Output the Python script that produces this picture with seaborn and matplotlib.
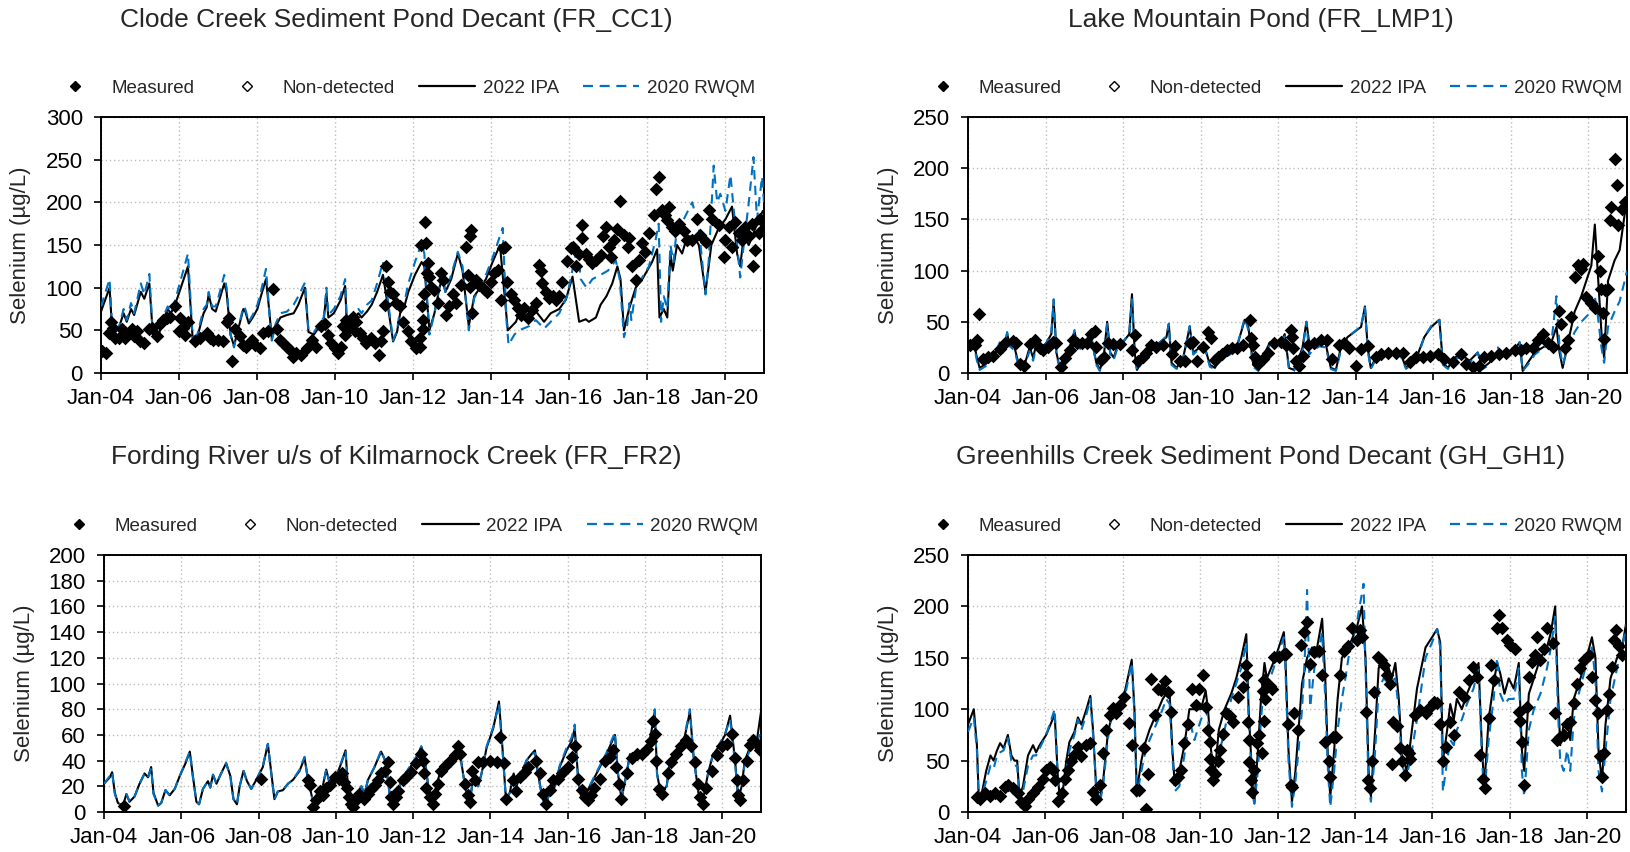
import numpy as np
import matplotlib
matplotlib.use("Agg")
import matplotlib.pyplot as plt
from matplotlib.lines import Line2D
import seaborn as sns

# ---------------- DATA (decimal year, Selenium ug/L) ----------------
cc1_ipa = [(2004.00,72),(2004.22,100),(2004.28,55),(2004.45,52),(2004.58,70),(2004.66,60),(2004.77,75),(2004.85,68),
 (2005.02,95),(2005.11,87),(2005.24,105),(2005.33,45),(2005.45,40),(2005.59,62),(2005.71,75),(2005.79,70),(2005.90,80),
 (2006.23,125),(2006.35,40),(2006.47,42),(2006.63,70),(2006.71,77),(2006.76,92),(2006.85,75),(2006.94,72),(2007.03,85),
 (2007.16,105),(2007.22,95),(2007.32,45),(2007.41,32),(2007.65,75),(2007.70,72),(2007.79,58),(2007.89,65),(2008.01,75),
 (2008.10,90),(2008.23,110),(2008.31,75),(2008.38,40),(2008.48,55),(2008.60,65),(2008.77,68),(2008.94,70),(2009.06,80),
 (2009.23,100),(2009.32,48),(2009.46,45),(2009.61,55),(2009.71,62),(2009.78,93),(2009.83,65),(2009.97,70),(2010.14,85),
 (2010.26,102),(2010.31,50),(2010.39,60),(2010.60,70),(2010.68,65),(2010.82,72),(2010.94,80),(2011.08,95),(2011.23,115),
 (2011.40,65),(2011.49,37),(2011.59,48),(2011.67,70),(2011.79,80),(2011.88,95),(2012.05,115),(2012.22,130),(2012.29,125),
 (2012.42,50),(2012.55,70),(2012.68,100),(2012.75,112),(2012.83,95),(2012.98,110),(2013.15,140),(2013.27,120),(2013.43,55),
 (2013.57,90),(2013.72,100),(2013.87,110),(2014.04,130),(2014.23,150),(2014.34,95),(2014.43,50),(2014.64,60),(2014.72,70),
 (2014.89,65),(2015.06,75),(2015.19,70),(2015.36,60),(2015.53,70),(2015.75,75),(2015.92,86),(2016.09,113),(2016.26,60),
 (2016.43,63),(2016.51,60),(2016.69,65),(2016.81,80),(2016.96,90),(2017.11,105),(2017.24,125),(2017.32,110),(2017.41,50),
 (2017.54,75),(2017.71,100),(2017.88,110),(2018.13,130),(2018.26,145),(2018.32,65),(2018.43,75),(2018.52,65),(2018.60,140),
 (2018.66,120),(2018.77,150),(2018.90,140),(2019.03,160),(2019.20,160),(2019.33,150),(2019.50,95),(2019.65,150),(2019.84,170),
 (2020.01,180),(2020.18,195),(2020.31,140),(2020.39,125),(2020.48,160),(2020.61,150),(2020.78,170),(2020.97,190)]

cc1_rwqm = [(2004.00,78),(2004.22,110),(2004.28,58),(2004.45,52),(2004.58,75),(2004.66,62),(2004.77,82),(2004.85,70),
 (2005.02,105),(2005.11,92),(2005.24,116),(2005.33,45),(2005.45,42),(2005.59,65),(2005.71,78),(2005.79,72),(2005.90,85),
 (2006.23,140),(2006.35,42),(2006.47,45),(2006.63,75),(2006.71,80),(2006.76,95),(2006.85,78),(2006.94,78),(2007.03,92),
 (2007.16,115),(2007.22,100),(2007.32,45),(2007.41,30),(2007.65,78),(2007.70,75),(2007.79,60),(2007.89,68),(2008.01,80),
 (2008.10,95),(2008.23,122),(2008.31,75),(2008.38,38),(2008.48,58),(2008.60,70),(2008.77,72),(2008.94,80),(2009.06,90),
 (2009.23,106),(2009.32,50),(2009.46,48),(2009.61,58),(2009.71,65),(2009.78,100),(2009.83,68),(2009.97,75),(2010.14,90),
 (2010.26,110),(2010.31,52),(2010.39,62),(2010.60,75),(2010.68,70),(2010.82,80),(2010.94,85),(2011.08,105),(2011.23,130),
 (2011.40,70),(2011.49,38),(2011.59,50),(2011.67,75),(2011.79,85),(2011.88,105),(2012.05,130),(2012.22,152),(2012.29,140),
 (2012.42,45),(2012.55,70),(2012.68,105),(2012.75,115),(2012.83,95),(2012.98,115),(2013.15,142),(2013.27,125),(2013.43,50),
 (2013.57,88),(2013.72,100),(2013.87,115),(2014.04,135),(2014.30,170),(2014.40,60),(2014.45,33),(2014.60,45),(2014.72,50),
 (2014.98,55),(2015.15,62),(2015.36,52),(2015.53,60),(2015.75,70),(2015.95,90),(2016.13,130),(2016.22,150),(2016.30,110),
 (2016.45,100),(2016.60,110),(2016.81,115),(2017.00,120),(2017.20,132),(2017.30,110),(2017.41,42),(2017.49,55),(2017.55,82),
 (2017.60,62),(2017.72,100),(2017.88,112),(2018.05,125),(2018.22,156),(2018.30,175),(2018.36,60),(2018.43,90),(2018.52,75),
 (2018.60,150),(2018.68,130),(2018.77,172),(2018.94,180),(2019.16,200),(2019.33,170),(2019.50,92),(2019.58,130),(2019.71,243),
 (2019.80,200),(2019.88,210),(2020.01,190),(2020.14,232),(2020.31,150),(2020.39,112),(2020.48,150),(2020.61,200),(2020.73,253),
 (2020.82,180),(2020.95,230),(2021.00,200)]

cc1_meas = [(2004.03,26),(2004.14,24),(2004.20,47),(2004.26,60),(2004.32,53),(2004.37,41),(2004.45,41),(2004.54,51),
 (2004.62,41),(2004.71,47),(2004.79,51),(2004.84,43),(2004.92,49),(2005.01,37),(2005.09,35),(2005.22,51),(2005.30,53),
 (2005.43,43),(2005.52,58),(2005.60,62),(2005.69,64),(2005.77,66),(2005.90,78),(2005.99,49),(2006.03,64),(2006.11,53),
 (2006.16,45),(2006.24,60),(2006.41,37),(2006.54,41),(2006.71,47),(2006.80,41),(2006.88,39),(2007.01,39),(2007.14,37),
 (2007.22,60),(2007.27,64),(2007.35,14),(2007.44,51),(2007.56,43),(2007.65,33),(2007.73,31),(2007.86,39),(2007.95,33),
 (2008.07,29),(2008.16,47),(2008.29,49),(2008.42,99),(2008.50,51),(2008.59,39),(2008.67,35),(2008.76,31),(2008.84,27),
 (2008.93,19),(2009.01,23),(2009.14,21),(2009.27,29),(2009.40,39),(2009.52,31),(2009.65,55),(2009.74,58),(2009.82,45),
 (2009.91,35),(2009.99,29),(2010.08,23),(2010.16,31),(2010.21,55),(2010.25,45),(2010.29,62),(2010.33,51),(2010.38,58),
 (2010.46,66),(2010.50,49),(2010.55,60),(2010.63,47),(2010.72,41),(2010.80,35),(2010.93,41),(2011.02,35),(2011.14,21),
 (2011.19,37),(2011.23,49),(2011.27,80),(2011.31,125),(2011.36,107),(2011.40,95),(2011.49,93),(2011.57,82),(2011.66,78),
 (2011.74,60),(2011.87,49),(2011.95,37),(2012.08,29),(2012.17,41),(2012.25,51),(2012.30,177),(2012.34,152),(2012.36,117),
 (2012.28,93),(2012.23,78),(2012.21,150),(2012.38,129),(2012.42,113),(2012.46,101),(2012.26,62),(2012.18,31),(2012.55,97),
 (2012.63,82),(2012.72,117),(2012.76,109),(2012.85,68),(2012.93,78),(2013.02,92),(2013.10,82),(2013.23,103),(2013.36,148),
 (2013.45,160),(2013.49,167),(2013.40,115),(2013.47,101),(2013.51,70),(2013.62,109),(2013.70,103),(2013.83,99),(2013.91,95),
 (2014.00,107),(2014.08,117),(2014.17,121),(2014.30,146),(2014.37,148),(2014.40,107),(2014.26,86),(2014.51,93),(2014.60,86),
 (2014.68,76),(2014.77,68),(2014.85,76),(2014.94,64),(2015.06,74),(2015.15,82),(2015.24,127),(2015.28,119),(2015.32,105),
 (2015.41,95),(2015.49,88),(2015.58,90),(2015.66,86),(2015.75,90),(2015.83,107),(2015.96,131),(2016.05,146),(2016.09,148),
 (2016.17,125),(2016.26,140),(2016.33,173),(2016.34,158),(2016.43,140),(2016.51,134),(2016.60,129),(2016.68,132),(2016.81,138),
 (2016.86,160),(2016.94,171),(2017.03,148),(2017.07,136),(2017.15,156),(2017.24,169),(2017.32,202),(2017.41,162),(2017.50,148),
 (2017.54,158),(2017.62,125),(2017.71,109),(2017.79,132),(2017.88,152),(2017.96,142),(2018.05,164),(2018.18,185),(2018.22,216),
 (2018.30,230),(2018.39,191),(2018.47,185),(2018.56,195),(2018.52,179),(2018.65,171),(2018.73,166),(2018.82,175),(2018.94,166),
 (2019.03,156),(2019.16,156),(2019.29,181),(2019.37,162),(2019.50,154),(2019.58,191),(2019.67,181),(2019.84,173),(2019.97,136),
 (2020.01,156),(2020.09,171),(2020.18,148),(2020.26,177),(2020.35,164),(2020.43,156),(2020.52,171),(2020.61,160),(2020.69,175),
 (2020.73,125),(2020.78,144),(2020.86,164),(2020.90,181),(2020.95,167)]

lmp1_ipa = [(2004.00,27),(2004.15,30),(2004.23,15),(2004.30,5),(2004.43,8),(2004.56,12),(2004.69,18),(2004.82,28),(2004.90,22),
 (2005.01,38),(2005.08,28),(2005.20,25),(2005.33,5),(2005.46,8),(2005.59,25),(2005.68,15),(2005.76,28),(2005.85,22),(2006.03,30),
 (2006.15,38),(2006.21,70),(2006.28,20),(2006.38,3),(2006.50,12),(2006.62,25),(2006.75,40),(2006.84,25),(2006.97,28),(2007.06,30),
 (2007.18,35),(2007.31,10),(2007.40,3),(2007.50,15),(2007.59,50),(2007.67,20),(2007.76,15),(2007.87,28),(2008.00,30),(2008.16,38),
 (2008.23,77),(2008.30,20),(2008.36,3),(2008.48,12),(2008.60,20),(2008.78,25),(2008.95,30),(2009.12,35),(2009.18,48),(2009.25,10),
 (2009.38,5),(2009.55,15),(2009.72,45),(2009.81,20),(2009.98,25),(2010.11,25),(2010.24,8),(2010.37,5),(2010.50,15),(2010.76,20),
 (2010.93,25),(2011.14,52),(2011.23,45),(2011.36,8),(2011.49,3),(2011.66,20),(2011.79,30),(2011.90,28),(2012.07,30),(2012.17,38),
 (2012.28,5),(2012.41,3),(2012.54,15),(2012.63,25),(2012.73,50),(2012.80,30),(2012.89,28),(2013.06,30),(2013.23,28),(2013.36,5),
 (2013.49,3),(2013.62,25),(2013.79,35),(2013.96,40),(2014.14,45),(2014.24,65),(2014.31,25),(2014.39,5),(2014.52,15),(2014.70,20),
 (2014.91,20),(2015.17,18),(2015.30,5),(2015.43,10),(2015.60,18),(2015.77,35),(2015.95,45),(2016.16,52),(2016.25,10),(2016.38,5),
 (2016.55,15),(2016.72,18),(2016.94,12),(2017.15,20),(2017.28,5),(2017.45,10),(2017.67,22),(2017.75,20),(2017.93,20),(2018.14,25),
 (2018.23,30),(2018.31,2),(2018.44,10),(2018.62,20),(2018.83,25),(2019.05,30),(2019.18,45),(2019.26,20),(2019.34,5),(2019.48,30),
 (2019.65,60),(2019.82,75),(2020.08,105),(2020.17,145),(2020.25,95),(2020.34,40),(2020.41,15),(2020.51,90),(2020.68,110),
 (2020.81,120),(2020.94,155),(2021.00,165)]

lmp1_rwqm = [(2004.00,26),(2004.15,28),(2004.23,12),(2004.30,3),(2004.43,6),(2004.56,10),(2004.69,18),(2004.82,30),(2004.90,20),
 (2005.01,40),(2005.08,26),(2005.20,22),(2005.33,3),(2005.46,6),(2005.59,22),(2005.68,12),(2005.76,26),(2005.85,20),(2006.03,30),
 (2006.15,40),(2006.21,72),(2006.28,18),(2006.38,2),(2006.50,10),(2006.62,24),(2006.75,42),(2006.84,22),(2006.97,26),(2007.06,28),
 (2007.18,36),(2007.31,8),(2007.40,2),(2007.50,12),(2007.59,48),(2007.67,18),(2007.76,13),(2007.87,26),(2008.00,30),(2008.16,40),
 (2008.23,72),(2008.30,18),(2008.36,2),(2008.48,10),(2008.60,18),(2008.78,24),(2008.95,30),(2009.12,36),(2009.18,48),(2009.25,8),
 (2009.38,4),(2009.55,13),(2009.72,46),(2009.81,18),(2009.98,24),(2010.11,24),(2010.24,6),(2010.37,4),(2010.50,13),(2010.76,18),
 (2010.93,25),(2011.14,54),(2011.23,42),(2011.36,6),(2011.49,2),(2011.66,18),(2011.79,28),(2011.90,26),(2012.07,28),(2012.17,36),
 (2012.28,4),(2012.41,2),(2012.54,13),(2012.63,22),(2012.73,50),(2012.80,18),(2012.89,22),(2013.06,26),(2013.23,25),(2013.36,4),
 (2013.49,2),(2013.62,22),(2013.79,34),(2013.96,40),(2014.14,46),(2014.24,64),(2014.31,22),(2014.39,4),(2014.52,13),(2014.70,18),
 (2014.91,20),(2015.17,16),(2015.30,4),(2015.43,8),(2015.60,16),(2015.77,35),(2015.95,46),(2016.16,52),(2016.25,8),(2016.38,4),
 (2016.55,13),(2016.72,16),(2016.94,10),(2017.15,20),(2017.28,4),(2017.45,8),(2017.67,25),(2017.75,18),(2017.93,18),(2018.14,24),
 (2018.23,30),(2018.31,2),(2018.44,8),(2018.62,18),(2018.83,24),(2019.05,30),(2019.18,75),(2019.26,25),(2019.34,8),(2019.48,25),
 (2019.65,40),(2019.82,50),(2020.08,60),(2020.17,75),(2020.25,55),(2020.34,25),(2020.41,10),(2020.51,45),(2020.68,60),
 (2020.81,70),(2020.94,90),(2021.00,100)]

lmp1_meas = [(2004.04,27),(2004.17,27),(2004.22,32),(2004.28,58),(2004.39,14),(2004.52,16),(2004.65,17),(2004.82,23),(2004.95,29),
 (2005.16,31),(2005.25,29),(2005.33,9),(2005.44,7),(2005.59,28),(2005.72,32),(2005.85,24),(2005.94,22),(2006.07,25),(2006.19,30),
 (2006.28,29),(2006.41,6),(2006.50,15),(2006.62,22),(2006.71,32),(2006.80,29),(2006.93,29),(2007.06,29),(2007.18,38),(2007.27,41),
 (2007.31,25),(2007.44,13),(2007.52,16),(2007.61,29),(2007.74,28),(2007.92,28),(2008.22,22),(2008.30,37),(2008.39,12),(2008.52,16),
 (2008.60,20),(2008.73,27),(2008.86,25),(2009.03,27),(2009.25,19),(2009.34,26),(2009.46,12),(2009.59,12),(2009.72,29),(2009.81,30),
 (2009.92,12),(2010.07,25),(2010.20,40),(2010.28,34),(2010.37,13),(2010.45,16),(2010.54,19),(2010.67,22),(2010.80,24),(2010.93,24),
 (2011.10,27),(2011.27,52),(2011.31,34),(2011.36,27),(2011.40,16),(2011.49,9),(2011.62,14),(2011.75,20),(2011.90,29),(2012.07,30),
 (2012.20,27),(2012.33,42),(2012.37,35),(2012.39,24),(2012.46,12),(2012.54,7),(2012.63,17),(2012.76,27),(2012.93,29),(2013.10,32),
 (2013.27,32),(2013.40,14),(2013.58,27),(2013.71,29),(2013.83,24),(2014.01,7),(2014.14,23),(2014.31,26),(2014.52,16),(2014.65,19),
 (2014.83,20),(2015.04,20),(2015.21,20),(2015.39,11),(2015.56,16),(2015.74,16),(2015.91,17),(2016.12,19),(2016.29,14),(2016.50,11),
 (2016.72,19),(2016.85,9),(2017.02,6),(2017.19,7),(2017.32,16),(2017.50,17),(2017.71,19),(2017.88,20),(2018.10,22),(2018.27,22),
 (2018.40,24),(2018.57,24),(2018.70,32),(2018.83,38),(2018.96,29),(2019.09,25),(2019.24,61),(2019.30,48),(2019.39,24),(2019.48,32),
 (2019.56,55),(2019.65,94),(2019.73,105),(2019.82,102),(2019.86,106),(2019.95,74),(2020.08,68),(2020.17,63),(2020.25,114),
 (2020.30,100),(2020.34,82),(2020.43,81),(2020.39,59),(2020.41,33),(2020.51,82),(2020.55,149),(2020.58,162),(2020.73,184),
 (2020.68,209),(2020.77,145),(2020.86,160),(2020.94,167)]

fr2_ipa = [(2004.00,22),(2004.15,27),(2004.21,31),(2004.28,15),(2004.36,7),(2004.49,5),(2004.58,14),(2004.66,8),(2004.79,12),
 (2004.92,22),(2005.05,30),(2005.14,27),(2005.22,35),(2005.28,15),(2005.40,5),(2005.48,7),(2005.59,17),(2005.70,13),(2005.83,18),
 (2005.96,28),(2006.11,38),(2006.22,47),(2006.30,28),(2006.39,8),(2006.46,6),(2006.56,18),(2006.69,24),(2006.75,19),(2006.82,29),
 (2006.91,22),(2007.03,30),(2007.16,38),(2007.27,28),(2007.35,10),(2007.44,6),(2007.51,20),(2007.61,32),(2007.70,24),(2007.81,18),
 (2007.94,25),(2008.11,35),(2008.24,53),(2008.33,30),(2008.41,10),(2008.50,16),(2008.63,17),(2008.76,22),(2008.89,25),(2009.06,32),
 (2009.19,42),(2009.28,25),(2009.41,8),(2009.53,15),(2009.66,20),(2009.75,33),(2009.84,22),(2010.01,28),(2010.14,38),(2010.25,48),
 (2010.31,20),(2010.44,10),(2010.57,15),(2010.66,20),(2010.74,14),(2010.83,25),(2011.00,35),(2011.17,47),(2011.28,40),(2011.39,15),
 (2011.47,8),(2011.60,15),(2011.69,25),(2011.86,32),(2012.08,42),(2012.21,51),(2012.30,42),(2012.39,20),(2012.47,5),(2012.60,20),
 (2012.73,35),(2012.86,38),(2013.03,40),(2013.19,50),(2013.29,30),(2013.38,15),(2013.47,10),(2013.55,25),(2013.68,20),(2013.77,30),
 (2013.90,50),(2014.07,65),(2014.22,86),(2014.31,50),(2014.40,10),(2014.50,15),(2014.60,30),(2014.67,20),(2014.80,30),(2014.93,40),
 (2015.06,45),(2015.15,48),(2015.23,30),(2015.32,15),(2015.41,5),(2015.54,15),(2015.67,20),(2015.79,35),(2015.97,48),(2016.10,55),
 (2016.18,65),(2016.27,25),(2016.36,10),(2016.48,15),(2016.66,25),(2016.83,35),(2017.00,45),(2017.22,60),(2017.30,30),(2017.39,10),
 (2017.52,30),(2017.61,45),(2017.74,40),(2017.91,45),(2018.12,55),(2018.25,78),(2018.31,30),(2018.40,15),(2018.56,20),(2018.64,40),
 (2018.81,45),(2018.98,52),(2019.16,78),(2019.25,45),(2019.38,15),(2019.49,8),(2019.63,30),(2019.76,45),(2019.89,50),(2020.07,60),
 (2020.20,75),(2020.33,40),(2020.41,10),(2020.50,20),(2020.58,40),(2020.71,50),(2020.89,55),(2021.01,80)]

fr2_rwqm = [(2004.00,22),(2004.15,28),(2004.21,31),(2004.28,14),(2004.36,7),(2004.49,5),(2004.58,14),(2004.66,8),(2004.79,12),
 (2004.92,22),(2005.05,30),(2005.14,27),(2005.22,34),(2005.28,14),(2005.40,5),(2005.48,7),(2005.59,17),(2005.70,13),(2005.83,18),
 (2005.96,28),(2006.11,39),(2006.22,47),(2006.30,27),(2006.39,8),(2006.46,6),(2006.56,18),(2006.69,24),(2006.75,19),(2006.82,29),
 (2006.91,22),(2007.03,30),(2007.16,38),(2007.27,27),(2007.35,10),(2007.44,6),(2007.51,20),(2007.61,32),(2007.70,24),(2007.81,18),
 (2007.94,25),(2008.11,36),(2008.24,53),(2008.33,29),(2008.41,10),(2008.50,16),(2008.63,17),(2008.76,22),(2008.89,25),(2009.06,33),
 (2009.19,43),(2009.28,24),(2009.41,8),(2009.53,15),(2009.66,20),(2009.75,33),(2009.84,22),(2010.01,28),(2010.14,39),(2010.25,48),
 (2010.31,19),(2010.44,10),(2010.57,15),(2010.66,20),(2010.74,14),(2010.83,25),(2011.00,35),(2011.17,48),(2011.28,39),(2011.39,14),
 (2011.47,8),(2011.60,15),(2011.69,25),(2011.86,33),(2012.08,43),(2012.21,51),(2012.30,41),(2012.39,19),(2012.47,5),(2012.60,20),
 (2012.73,35),(2012.86,38),(2013.03,41),(2013.19,51),(2013.29,29),(2013.38,14),(2013.47,10),(2013.55,25),(2013.68,20),(2013.77,30),
 (2013.90,51),(2014.07,66),(2014.22,84),(2014.31,48),(2014.40,10),(2014.50,15),(2014.60,30),(2014.67,20),(2014.80,30),(2014.93,40),
 (2015.06,45),(2015.15,46),(2015.23,29),(2015.32,14),(2015.41,5),(2015.54,15),(2015.67,20),(2015.79,36),(2015.97,50),(2016.10,58),
 (2016.18,68),(2016.27,24),(2016.36,10),(2016.48,15),(2016.66,26),(2016.83,36),(2017.00,46),(2017.22,62),(2017.30,30),(2017.39,10),
 (2017.52,29),(2017.61,45),(2017.74,40),(2017.91,46),(2018.12,56),(2018.25,80),(2018.31,29),(2018.40,15),(2018.56,20),(2018.64,40),
 (2018.81,46),(2018.98,53),(2019.16,80),(2019.25,44),(2019.38,14),(2019.49,8),(2019.63,30),(2019.76,45),(2019.89,51),(2020.07,61),
 (2020.20,72),(2020.33,38),(2020.41,10),(2020.50,20),(2020.58,38),(2020.71,48),(2020.89,53),(2021.01,65)]

fr2_meas = [(2004.51,5),(2008.07,26),(2009.28,25),(2009.34,21),(2009.41,4),(2009.49,9),(2009.58,16),(2009.66,13),(2009.75,19),
 (2009.84,21),(2009.97,27),(2010.09,26),(2010.16,30),(2010.22,23),(2010.28,19),(2010.34,12),(2010.40,6),(2010.44,4),(2010.53,9),
 (2010.61,14),(2010.74,10),(2010.83,14),(2010.91,18),(2011.00,21),(2011.09,25),(2011.17,30),(2011.27,32),(2011.35,39),(2011.39,23),
 (2011.43,12),(2011.47,6),(2011.56,12),(2011.60,16),(2011.73,25),(2011.82,27),(2011.95,31),(2012.08,38),(2012.21,45),(2012.25,40),
 (2012.29,30),(2012.34,19),(2012.43,12),(2012.50,6),(2012.56,14),(2012.65,22),(2012.73,32),(2012.82,36),(2012.95,40),(2013.08,44),
 (2013.16,51),(2013.22,45),(2013.34,22),(2013.42,13),(2013.47,8),(2013.51,32),(2013.60,25),(2013.68,39),(2013.81,39),(2013.98,40),
 (2014.16,39),(2014.24,58),(2014.35,38),(2014.41,10),(2014.59,25),(2014.67,16),(2014.76,27),(2014.89,31),(2014.98,35),(2015.19,40),
 (2015.28,30),(2015.36,14),(2015.43,6),(2015.54,17),(2015.62,25),(2015.75,26),(2015.84,30),(2016.01,35),(2016.10,43),(2016.18,51),
 (2016.27,26),(2016.36,17),(2016.44,12),(2016.52,9),(2016.61,13),(2016.69,19),(2016.83,26),(2016.96,40),(2017.09,43),(2017.17,48),
 (2017.26,35),(2017.33,22),(2017.39,10),(2017.52,30),(2017.65,42),(2017.78,45),(2017.91,45),(2018.04,49),(2018.16,55),(2018.21,71),
 (2018.25,61),(2018.29,40),(2018.37,18),(2018.43,14),(2018.60,30),(2018.68,39),(2018.81,45),(2018.94,51),(2019.07,56),(2019.20,51),
 (2019.28,39),(2019.37,22),(2019.42,12),(2019.49,6),(2019.57,19),(2019.72,32),(2019.85,44),(2019.98,51),(2020.11,53),(2020.24,61),
 (2020.33,42),(2020.37,25),(2020.41,13),(2020.46,9),(2020.54,25),(2020.63,40),(2020.71,52),(2020.80,56),(2020.89,53),(2020.97,48)]

gh1_ipa = [(2004.00,85),(2004.15,100),(2004.23,65),(2004.28,12),(2004.34,15),(2004.47,40),(2004.58,55),(2004.66,50),(2004.75,60),
 (2004.83,67),(2004.92,62),(2005.03,75),(2005.12,55),(2005.20,50),(2005.27,50),(2005.33,15),(2005.42,25),(2005.55,55),(2005.68,65),
 (2005.76,58),(2005.85,65),(2006.02,75),(2006.24,95),(2006.32,35),(2006.38,10),(2006.45,20),(2006.54,50),(2006.62,68),(2006.75,78),
 (2006.84,92),(2006.93,85),(2007.06,100),(2007.16,113),(2007.23,80),(2007.31,25),(2007.40,10),(2007.49,30),(2007.61,75),(2007.74,100),
 (2007.92,100),(2008.04,115),(2008.23,148),(2008.30,100),(2008.36,20),(2008.48,50),(2008.56,65),(2008.69,80),(2008.86,95),(2009.03,110),
 (2009.12,115),(2009.21,115),(2009.28,60),(2009.34,28),(2009.46,40),(2009.59,65),(2009.72,100),(2009.85,100),(2010.02,100),(2010.14,118),
 (2010.20,100),(2010.28,60),(2010.37,35),(2010.48,80),(2010.63,100),(2010.80,115),(2010.93,130),(2011.06,150),(2011.19,173),(2011.25,100),
 (2011.36,20),(2011.40,10),(2011.49,60),(2011.57,110),(2011.66,145),(2011.72,130),(2011.94,150),(2012.16,175),(2012.20,150),(2012.28,60),
 (2012.37,10),(2012.46,40),(2012.54,80),(2012.63,125),(2012.76,150),(2012.89,160),(2013.02,160),(2013.15,188),(2013.23,130),(2013.30,50),
 (2013.36,15),(2013.46,60),(2013.55,110),(2013.66,150),(2013.83,160),(2014.05,180),(2014.18,200),(2014.27,150),(2014.35,40),(2014.41,15),
 (2014.52,80),(2014.61,140),(2014.74,150),(2014.87,140),(2014.95,130),(2015.04,145),(2015.13,110),(2015.21,55),(2015.34,40),(2015.47,80),
 (2015.60,120),(2015.82,160),(2015.99,170),(2016.12,178),(2016.20,165),(2016.27,50),(2016.38,80),(2016.46,105),(2016.55,90),(2016.63,110),
 (2016.76,100),(2016.89,115),(2017.06,130),(2017.19,145),(2017.28,60),(2017.34,25),(2017.45,90),(2017.58,125),(2017.67,145),(2017.75,135),
 (2017.86,115),(2017.97,130),(2018.10,120),(2018.23,145),(2018.31,60),(2018.37,40),(2018.49,115),(2018.62,130),(2018.79,150),(2018.96,160),
 (2019.06,175),(2019.17,200),(2019.24,120),(2019.30,65),(2019.39,85),(2019.48,90),(2019.56,70),(2019.65,110),(2019.78,125),(2019.95,145),
 (2020.12,170),(2020.21,150),(2020.29,60),(2020.38,30),(2020.47,85),(2020.60,130),(2020.77,150),(2020.90,160),(2021.03,190)]

gh1_rwqm = [(2004.00,78),(2004.15,92),(2004.23,60),(2004.28,12),(2004.34,14),(2004.47,30),(2004.58,45),(2004.66,42),(2004.75,55),
 (2004.83,58),(2004.92,60),(2005.03,72),(2005.12,50),(2005.20,45),(2005.27,45),(2005.33,12),(2005.42,20),(2005.55,45),(2005.68,55),
 (2005.76,55),(2005.85,62),(2006.02,75),(2006.24,100),(2006.32,30),(2006.38,8),(2006.45,15),(2006.54,40),(2006.62,60),(2006.75,75),
 (2006.84,90),(2006.93,80),(2007.06,95),(2007.16,110),(2007.23,75),(2007.31,25),(2007.40,8),(2007.49,25),(2007.61,70),(2007.74,100),
 (2007.92,95),(2008.04,110),(2008.23,145),(2008.30,95),(2008.36,15),(2008.48,40),(2008.56,55),(2008.69,70),(2008.86,85),(2009.03,100),
 (2009.12,110),(2009.21,105),(2009.28,55),(2009.34,20),(2009.46,25),(2009.59,55),(2009.72,90),(2009.85,70),(2010.02,90),(2010.14,100),
 (2010.20,90),(2010.28,55),(2010.37,30),(2010.48,55),(2010.63,80),(2010.80,110),(2010.93,125),(2011.06,140),(2011.19,165),(2011.25,90),
 (2011.36,15),(2011.40,8),(2011.49,40),(2011.57,90),(2011.66,130),(2011.72,120),(2011.94,145),(2012.16,170),(2012.20,140),(2012.28,50),
 (2012.37,5),(2012.46,30),(2012.54,60),(2012.63,100),(2012.70,150),(2012.76,216),(2012.84,102),(2012.95,140),(2013.02,150),(2013.15,175),
 (2013.23,110),(2013.30,40),(2013.36,5),(2013.46,40),(2013.55,80),(2013.66,110),(2013.75,130),(2013.83,150),(2014.05,185),(2014.22,222),
 (2014.27,140),(2014.35,25),(2014.41,10),(2014.52,60),(2014.61,120),(2014.74,130),(2014.87,125),(2015.04,130),(2015.13,100),(2015.21,45),
 (2015.34,35),(2015.47,60),(2015.60,90),(2015.82,150),(2015.99,165),(2016.12,178),(2016.20,160),(2016.27,20),(2016.38,50),(2016.46,70),
 (2016.55,65),(2016.63,80),(2016.76,90),(2016.89,105),(2017.06,120),(2017.19,140),(2017.28,50),(2017.34,15),(2017.45,70),(2017.58,110),
 (2017.67,150),(2017.75,115),(2017.86,105),(2017.97,110),(2018.10,110),(2018.23,140),(2018.31,40),(2018.37,15),(2018.49,80),(2018.62,100),
 (2018.79,115),(2018.96,140),(2019.06,160),(2019.17,190),(2019.24,100),(2019.30,50),(2019.39,40),(2019.48,60),(2019.56,40),(2019.65,90),
 (2019.78,115),(2019.95,140),(2020.12,160),(2020.21,130),(2020.29,40),(2020.38,20),(2020.47,60),(2020.60,110),(2020.77,140),(2020.90,160),
 (2021.03,185)]

gh1_meas = [(2004.22,15),(2004.30,13),(2004.43,18),(2004.56,16),(2004.69,18),(2004.82,16),(2004.95,24),(2005.03,26),(2005.16,23),
 (2005.29,18),(2005.38,10),(2005.46,6),(2005.55,13),(2005.68,18),(2005.81,24),(2005.94,32),(2006.02,41),(2006.11,44),(2006.19,41),
 (2006.24,31),(2006.32,11),(2006.43,18),(2006.50,32),(2006.58,41),(2006.67,50),(2006.75,55),(2006.84,63),(2006.93,54),(2007.06,65),
 (2007.14,67),(2007.23,19),(2007.31,13),(2007.40,26),(2007.50,57),(2007.57,80),(2007.66,94),(2007.74,101),(2007.83,96),(2007.92,104),
 (2008.02,112),(2008.16,87),(2008.23,65),(2008.33,21),(2008.41,21),(2008.56,62),(2008.60,3),(2008.65,37),(2008.73,129),(2008.82,94),
 (2008.91,120),(2008.99,119),(2009.08,127),(2009.16,117),(2009.25,97),(2009.34,31),(2009.42,34),(2009.51,41),(2009.59,67),(2009.68,86),
 (2009.79,120),(2009.89,104),(2009.96,120),(2010.07,133),(2010.15,102),(2010.20,80),(2010.24,68),(2010.26,52),(2010.28,41),(2010.33,31),
 (2010.39,37),(2010.45,50),(2010.51,60),(2010.58,76),(2010.67,96),(2010.76,93),(2010.84,88),(2010.97,112),(2011.10,122),(2011.19,133),
 (2011.17,143),(2011.23,88),(2011.26,70),(2011.27,49),(2011.31,31),(2011.34,19),(2011.40,41),(2011.46,67),(2011.53,75),(2011.62,118),
 (2011.66,128),(2011.60,57),(2011.64,89),(2011.68,110),(2011.72,125),(2011.79,123),(2011.85,120),(2011.90,151),(2012.03,151),
 (2012.16,154),(2012.22,154),(2012.28,86),(2012.34,26),(2012.38,24),(2012.43,96),(2012.52,80),(2012.60,162),(2012.67,175),(2012.76,185),
 (2012.84,144),(2012.93,156),(2013.06,157),(2013.15,133),(2013.23,68),(2013.32,50),(2013.36,34),(2013.43,73),(2013.52,73),(2013.62,133),
 (2013.71,157),(2013.81,161),(2013.92,179),(2014.05,167),(2014.14,177),(2014.18,170),(2014.27,97),(2014.33,31),(2014.38,23),(2014.44,50),
 (2014.50,117),(2014.59,151),(2014.67,148),(2014.75,143),(2014.83,133),(2014.91,125),(2014.99,88),(2015.08,84),(2015.15,62),(2015.21,50),
 (2015.28,36),(2015.33,60),(2015.39,57),(2015.43,52),(2014.95,47),(2015.56,94),(2015.69,99),(2015.82,96),(2015.94,102),(2016.03,107),
 (2016.12,106),(2016.20,86),(2016.27,50),(2016.36,63),(2016.44,88),(2016.55,75),(2016.68,117),(2016.81,112),(2016.94,128),(2017.06,141),
 (2017.15,131),(2017.24,55),(2017.31,32),(2017.37,23),(2017.45,91),(2017.50,143),(2017.58,128),(2017.71,192),(2017.67,179),(2017.80,179),
 (2017.93,167),(2018.01,162),(2018.14,159),(2018.23,97),(2018.27,89),(2018.31,68),(2018.36,26),(2018.44,102),(2018.49,131),(2018.57,146),
 (2018.66,153),(2018.70,170),(2018.79,148),(2018.87,159),(2018.97,179),(2019.11,164),(2019.17,96),(2019.22,70),(2019.30,73),(2019.39,75),
 (2019.48,86),(2019.56,88),(2019.65,106),(2019.74,125),(2019.82,140),(2019.91,148),(2020.04,153),(2020.12,131),(2020.21,109),(2020.27,96),
 (2020.34,54),(2020.38,34),(2020.42,57),(2020.51,99),(2020.56,115),(2020.64,141),(2020.68,167),(2020.73,177),(2020.81,161),(2020.90,153)]

titles = ["Clode Creek Sediment Pond Decant (FR_CC1)", "Lake Mountain Pond (FR_LMP1)",
          "Fording River u/s of Kilmarnock Creek (FR_FR2)", "Greenhills Creek Sediment Pond Decant (GH_GH1)"]
y_limits = [(0, 300, 50), (0, 250, 50), (0, 200, 20), (0, 250, 50)]
legend_labels = ["Measured", "Non-detected", "2022 IPA", "2020 RWQM"]
x_tick_years = list(range(2004, 2021, 2))
x_tick_labels = ["Jan-%02d" % (y % 100) for y in x_tick_years]

# ---------------- STYLE ----------------
sns.set_theme(style="ticks")
plt.rcParams['font.family'] = ['Liberation Sans', 'DejaVu Sans']
BLUE = "#0070C0"
DASH = [4.5, 3]

fig = plt.figure(figsize=(16.3, 8.52), dpi=100)
W, H = 1630.0, 852.0
rects = [
    (101, 117, 764, 373),
    (968, 117, 1627, 373),
    (104, 555, 761, 812),
    (968, 555, 1626, 812),
]
panels = [(cc1_meas, cc1_ipa, cc1_rwqm), (lmp1_meas, lmp1_ipa, lmp1_rwqm),
          (fr2_meas, fr2_ipa, fr2_rwqm), (gh1_meas, gh1_ipa, gh1_rwqm)]

for i, ((l, t, r, b), (meas, ipa, rwqm)) in enumerate(zip(rects, panels)):
    ax = fig.add_axes([l / W, 1 - b / H, (r - l) / W, (b - t) / H])
    ipa_a = np.array(ipa, dtype=float)
    rw_a = np.array(rwqm, dtype=float)
    me_a = np.array(meas, dtype=float)
    sns.lineplot(x=ipa_a[:, 0], y=ipa_a[:, 1], ax=ax, color="black", linewidth=1.5,
                 estimator=None, sort=False, legend=False, zorder=2)
    sns.lineplot(x=rw_a[:, 0], y=rw_a[:, 1], ax=ax, color=BLUE, linewidth=1.5,
                 estimator=None, sort=False, legend=False, zorder=3)
    ax.lines[-1].set_dashes(DASH)
    sns.scatterplot(x=me_a[:, 0], y=me_a[:, 1], ax=ax, marker="D", s=48, color="black",
                    edgecolor="black", linewidth=0, legend=False, zorder=4)

    y0, y1, ys = y_limits[i]
    ax.set_ylim(y0, y1)
    ax.set_yticks(np.arange(y0, y1 + ys / 2, ys))
    ax.set_xlim(2004, 2021)
    ax.set_xticks(x_tick_years)
    ax.set_xticklabels(x_tick_labels)
    ax.grid(True, color="#BDBDBD", linestyle=(0, (1, 2)), linewidth=1.0)
    ax.set_axisbelow(True)
    for s in ax.spines.values():
        s.set_visible(True)
        s.set_color("black")
        s.set_linewidth(1.4)
    ax.tick_params(axis="both", direction="out", length=5, width=1.2, colors="black", labelsize=16)
    ax.tick_params(axis="y", pad=8)
    ax.tick_params(axis="x", pad=6)
    ax.set_xlabel("")
    ax.set_ylabel("Selenium (µg/L)", fontsize=16)
    ax.yaxis.set_label_coords(-0.105, 0.5)

    ax.text(0.445, 1.38, titles[i], transform=ax.transAxes, ha="center", va="center", fontsize=19)

    handles = [
        Line2D([], [], marker="D", color="black", linestyle="None", markersize=5),
        Line2D([], [], marker="D", markerfacecolor="white", markeredgecolor="black",
               linestyle="None", markersize=5, markeredgewidth=1),
        Line2D([], [], color="black", linewidth=1.6),
        Line2D([], [], color=BLUE, linewidth=1.6, dashes=DASH),
    ]
    ax.legend(handles, legend_labels, ncol=4, loc="center left", bbox_to_anchor=(-0.081, 1.113),
              frameon=False, fontsize=13.5, handlelength=3.0, handletextpad=0.4,
              columnspacing=1.3, borderpad=0, borderaxespad=0)

fig.savefig("out.png", dpi=100)
